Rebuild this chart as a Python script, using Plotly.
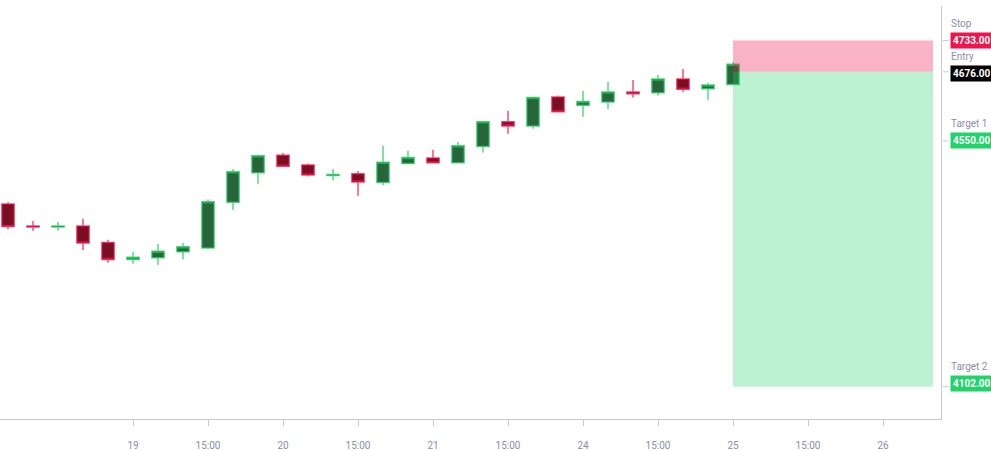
import plotly.graph_objects as go

# velas de 4 horas (indice da barra no eixo x)
bar_idx = list(range(30))
opens = [4435, 4395, 4393, 4395, 4365, 4334, 4337, 4348, 4355, 4438,
         4492, 4524, 4506, 4487, 4490, 4474, 4509, 4519, 4510, 4540,
         4585, 4577, 4630, 4615, 4621, 4639, 4638, 4663, 4645, 4653]
highs = [4438, 4404, 4402, 4408, 4370, 4348, 4362, 4364, 4443, 4499,
         4525, 4528, 4509, 4499, 4495, 4541, 4532, 4534, 4548, 4587,
         4605, 4631, 4633, 4641, 4658, 4661, 4670, 4681, 4656, 4694]
lows = [4389, 4386, 4386, 4351, 4328, 4326, 4324, 4334, 4353, 4424,
        4472, 4503, 4485, 4478, 4450, 4469, 4508, 4510, 4509, 4529,
        4563, 4572, 4602, 4594, 4608, 4629, 4633, 4639, 4625, 4652]
closes = [4394, 4393, 4395, 4364, 4334, 4338, 4349, 4357, 4439, 4494,
          4523, 4504, 4488, 4489, 4475, 4511, 4520, 4510, 4541, 4585,
          4577, 4629, 4603, 4622, 4639, 4636, 4663, 4644, 4652, 4690]

# rotulos do eixo x
tick_pos = [5, 8, 11, 14, 17, 20, 23, 26, 29, 32, 35]
tick_txt = ["19", "15:00", "20", "15:00", "21", "15:00", "24", "15:00", "25", "15:00", "26"]

# niveis da operacao
trade_start = 29
trade_end = 37
stop = 4733
entry = 4676
target1 = 4550
target2 = 4102

cinza = "#8c8ea8"
linha = "#c9c9d3"

fig = go.Figure()
fig.add_trace(go.Candlestick(
    x=bar_idx, open=opens, high=highs, low=lows, close=closes,
    increasing=dict(line=dict(color="rgba(34,200,94,0.75)", width=1.5), fillcolor="#29653a"),
    decreasing=dict(line=dict(color="rgba(240,19,77,0.75)", width=1.5), fillcolor="#7b0f22"),
    whiskerwidth=0, hoverinfo="skip", showlegend=False,
))

# caixas de risco / alvo
fig.add_shape(type="rect", xref="x", yref="y", x0=trade_start, x1=trade_end, y0=entry, y1=stop,
              fillcolor="rgba(240,19,77,0.32)", line=dict(width=0), layer="above")
fig.add_shape(type="rect", xref="x", yref="y", x0=trade_start, x1=trade_end, y0=target2, y1=entry,
              fillcolor="rgba(34,211,106,0.3)", line=dict(width=0), layer="above")

# etiquetas do lado direito
niveis = [("Stop", stop, "#f0134d", 0), ("Entry", entry, "#000000", -2),
          ("Target 1", target1, "#22d36a", 0), ("Target 2", target2, "#22d36a", 3)]
for nome, preco, cor, ajuste in niveis:
    fig.add_shape(type="line", xref="paper", yref="y", x0=1.002, x1=1.008, y0=preco, y1=preco,
                  line=dict(color=linha, width=1))
    fig.add_annotation(xref="paper", yref="y", x=1, y=preco, xanchor="left", yanchor="middle",
                       xshift=9, yshift=ajuste, showarrow=False, text="<b>%.2f</b>" % preco,
                       font=dict(color="white", size=10, family="Roboto"), bgcolor=cor, borderpad=2)
    fig.add_annotation(xref="paper", yref="y", x=1, y=preco, xanchor="left", yanchor="middle",
                       xshift=8, yshift=ajuste + 17, showarrow=False, text=nome,
                       font=dict(color=cinza, size=10, family="Roboto"))

fig.update_layout(
    width=991, height=451,
    margin=dict(l=0, r=50, t=6, b=30),
    paper_bgcolor="white", plot_bgcolor="white",
    font=dict(family="Roboto", color=cinza, size=10),
    xaxis=dict(range=[-0.32, 37.32], tickvals=tick_pos, ticktext=tick_txt,
               showgrid=False, zeroline=False, showline=True, linecolor=linha,
               ticks="outside", ticklen=6, tickcolor=linha, ticklabelstandoff=11,
               rangeslider=dict(visible=False), fixedrange=True),
    yaxis=dict(range=[4043, 4796], side="right", showgrid=False, zeroline=False,
               showline=True, linecolor=linha, showticklabels=False, fixedrange=True),
)

# tira a margem padrao do body para o grafico ocupar a janela toda
fig.write_html("out.html", config={"displayModeBar": False},
               post_script="document.body.style.margin='0';")
